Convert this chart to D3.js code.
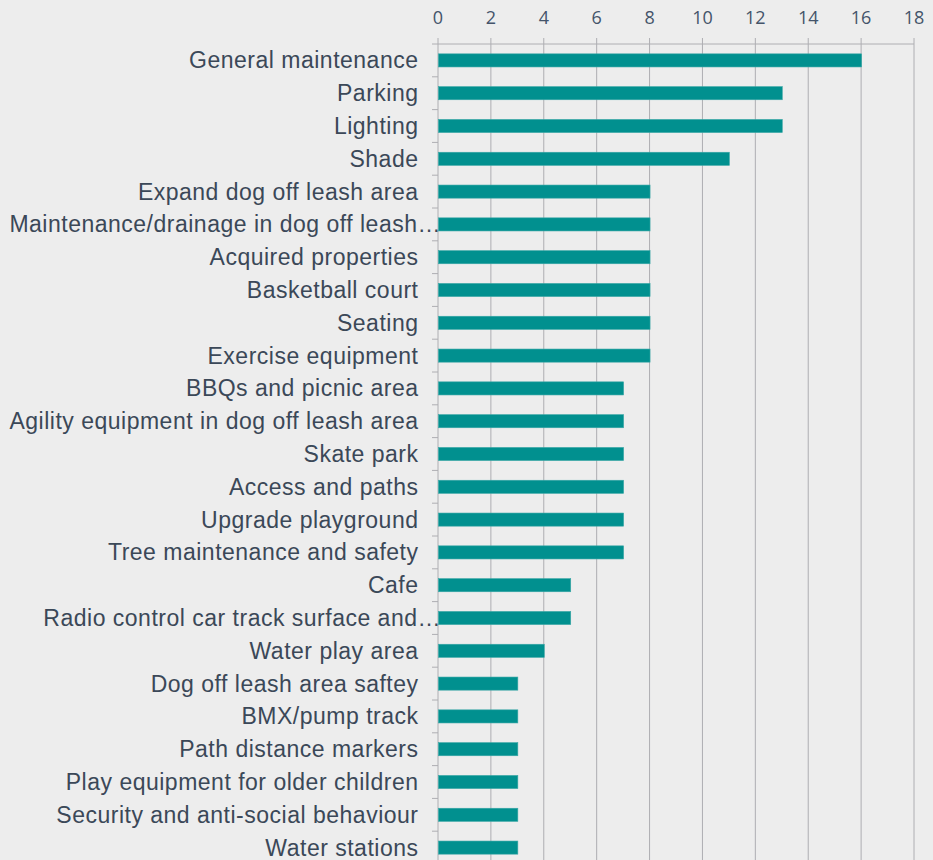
<!DOCTYPE html>
<html>
<head>
<meta charset="utf-8">
<script src="https://cdn.jsdelivr.net/npm/d3@7/dist/d3.min.js"></script>
<style>
  html, body { margin: 0; padding: 0; background: #ededed; }
  svg { display: block; }
</style>
</head>
<body>
<svg id="chart"></svg>
<script>
const categories = [
  'General maintenance', 'Parking', 'Lighting', 'Shade',
  'Expand dog off leash area', 'Maintenance/drainage in dog off leash\u2026',
  'Acquired properties', 'Basketball court', 'Seating', 'Exercise equipment',
  'BBQs and picnic area', 'Agility equipment in dog off leash area',
  'Skate park', 'Access and paths', 'Upgrade playground',
  'Tree maintenance and safety', 'Cafe', 'Radio control car track surface and\u2026',
  'Water play area', 'Dog off leash area saftey', 'BMX/pump track',
  'Path distance markers', 'Play equipment for older children',
  'Security and anti-social behaviour', 'Water stations'
];
const values = [16, 13, 13, 11, 8, 8, 8, 8, 8, 8, 7, 7, 7, 7, 7, 7, 5, 5, 4, 3, 3, 3, 3, 3, 3];
const xTicks = [0, 2, 4, 6, 8, 10, 12, 14, 16, 18];

const width = 933, height = 860;
const margin = { top: 44, left: 438, right: 19 };
const plotBottom = 864;

const svg = d3.select('#chart').attr('width', width).attr('height', height);

const x = d3.scaleLinear().domain([0, 18]).range([margin.left, width - margin.right]);
const y = d3.scaleBand().domain(categories).range([margin.top, plotBottom]).paddingInner(0.6).paddingOuter(0.3);

const gridColor = '#aeaeb2';

// vertical gridlines
svg.append('g')
  .selectAll('line')
  .data(xTicks.slice(1))
  .join('line')
  .attr('x1', d => x(d)).attr('x2', d => x(d))
  .attr('y1', margin.top - 6).attr('y2', plotBottom)
  .attr('stroke', gridColor).attr('stroke-width', 1);

// top axis line and left axis
svg.append('line')
  .attr('x1', margin.left - 6).attr('x2', x(18))
  .attr('y1', margin.top).attr('y2', margin.top)
  .attr('stroke', gridColor);
svg.append('line')
  .attr('x1', margin.left).attr('x2', margin.left)
  .attr('y1', margin.top - 6).attr('y2', plotBottom)
  .attr('stroke', gridColor);

// category separator ticks on the left
svg.append('g')
  .selectAll('line')
  .data(d3.range(1, categories.length + 1))
  .join('line')
  .attr('x1', margin.left - 6).attr('x2', margin.left)
  .attr('y1', i => margin.top + i * (plotBottom - margin.top) / categories.length)
  .attr('y2', i => margin.top + i * (plotBottom - margin.top) / categories.length)
  .attr('stroke', gridColor);

// tick labels
svg.append('g')
  .selectAll('text')
  .data(xTicks)
  .join('text')
  .attr('x', d => x(d))
  .attr('y', 24)
  .attr('text-anchor', 'middle')
  .attr('font-family', '"Open Sans", sans-serif')
  .attr('font-size', 18)
  .attr('fill', '#44546a')
  .text(d => d);

// bars
svg.append('g')
  .selectAll('rect')
  .data(values)
  .join('rect')
  .attr('x', x(0) + 0.5)
  .attr('y', (d, i) => y(categories[i]))
  .attr('width', d => x(d) - x(0))
  .attr('height', y.bandwidth())
  .attr('fill', '#01908f')
  .attr('stroke', '#3aa7a6')
  .attr('stroke-width', 0.6);

// category labels
svg.append('g')
  .selectAll('text')
  .data(categories)
  .join('text')
  .attr('x', d => d.endsWith('\u2026') ? 441 : 418.5)
  .attr('y', d => y(d) + y.bandwidth() / 2)
  .attr('dy', '0.35em')
  .attr('text-anchor', 'end')
  .attr('font-family', '"Liberation Sans", Arial, sans-serif')
  .attr('font-size', 23)
  .attr('letter-spacing', 0.5)
  .attr('fill', '#3b4858')
  .text(d => d);
</script>
</body>
</html>
